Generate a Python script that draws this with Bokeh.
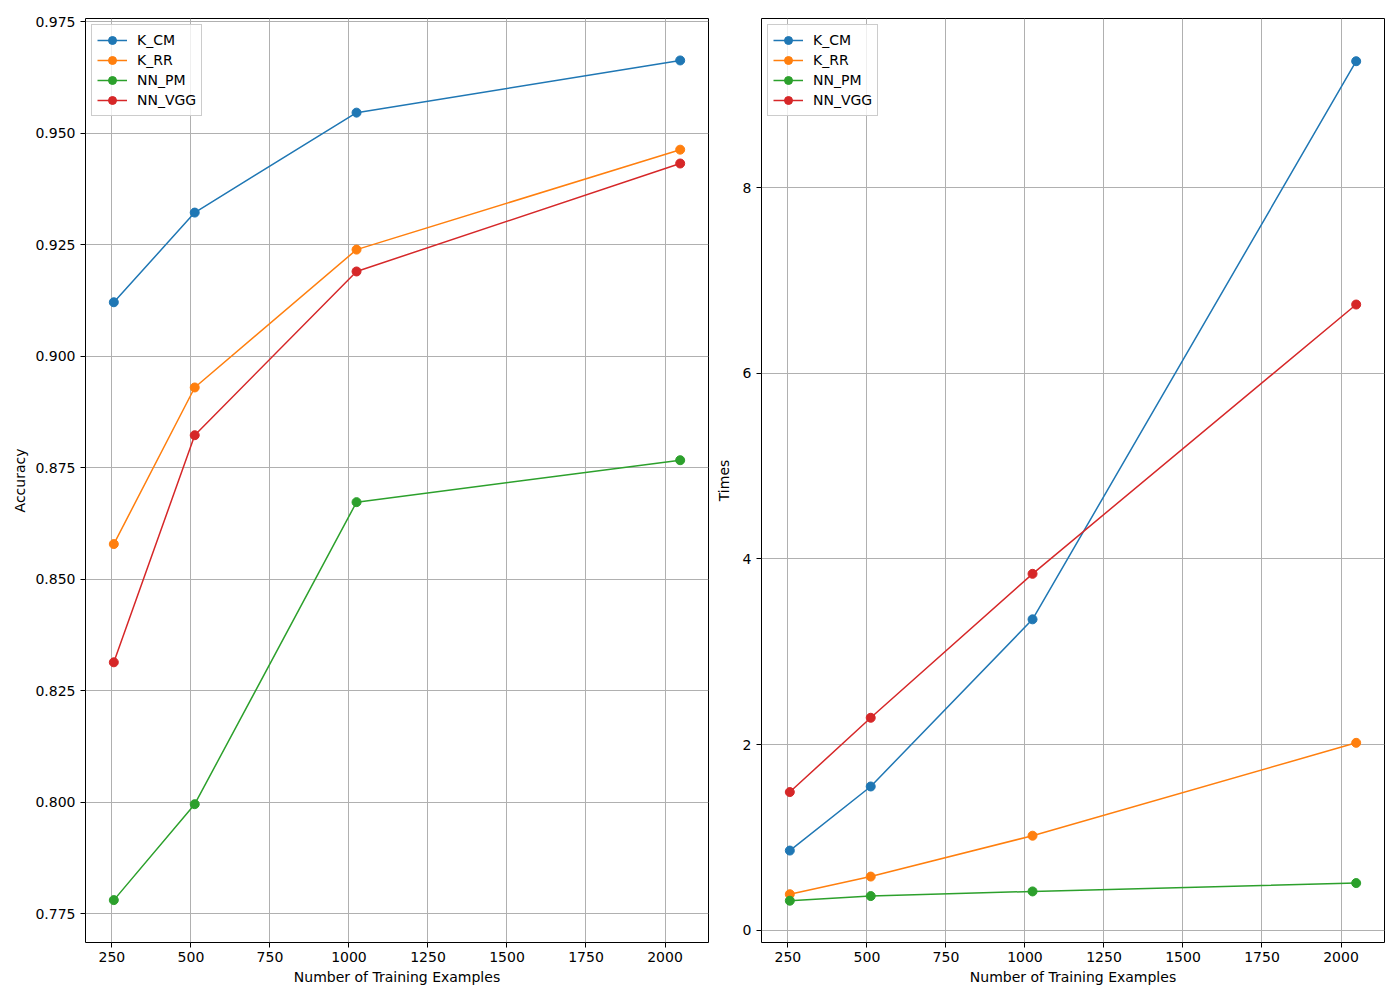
from bokeh.plotting import figure
from bokeh.layouts import row
from bokeh.models import FixedTicker, NumeralTickFormatter, Range1d, Legend, LegendItem
from bokeh.embed import file_html
from bokeh.resources import INLINE

x_vals = [256, 512, 1024, 2048]
series_names = ["K_CM", "K_RR", "NN_PM", "NN_VGG"]
colors = ["#1f77b4", "#ff7f0e", "#2ca02c", "#d62728"]

acc_k_cm = [0.9121, 0.9322, 0.9546, 0.9663]
acc_k_rr = [0.8579, 0.8930, 0.9239, 0.9463]
acc_nn_pm = [0.7781, 0.7996, 0.8673, 0.8767]
acc_nn_vgg = [0.8314, 0.8823, 0.9190, 0.9432]

time_k_cm = [0.86, 1.55, 3.35, 9.36]
time_k_rr = [0.39, 0.58, 1.02, 2.02]
time_nn_pm = [0.32, 0.37, 0.42, 0.51]
time_nn_vgg = [1.49, 2.29, 3.84, 6.74]

x_ticks = [250, 500, 750, 1000, 1250, 1500, 1750, 2000]
acc_ticks = [0.775, 0.800, 0.825, 0.850, 0.875, 0.900, 0.925, 0.950, 0.975]
time_ticks = [0, 2, 4, 6, 8]

FONT = "DejaVu Sans"


def make_fig(ys, y_range, yticks, fmt, ylabel, border_left, border_right, ylabel_standoff):
    p = figure(frame_width=623, frame_height=924, output_backend="svg",
               toolbar_location=None, min_border_left=border_left,
               min_border_right=border_right, min_border_top=18,
               min_border_bottom=58, background_fill_color="white",
               border_fill_color="white")
    p.x_range = Range1d(166.4, 2137.6)
    p.y_range = Range1d(*y_range)
    p.outline_line_color = "black"
    p.outline_line_width = 1
    for ax in (p.xaxis[0], p.yaxis[0]):
        ax.major_label_text_font = FONT
        ax.major_label_text_font_size = "14px"
        ax.major_label_text_color = "black"
        ax.axis_label_text_font = FONT
        ax.axis_label_text_font_size = "14px"
        ax.axis_label_text_font_style = "normal"
        ax.axis_label_text_color = "black"
        ax.axis_line_color = None
        ax.major_tick_line_color = "black"
        ax.major_tick_out = 5
        ax.major_tick_in = 0
        ax.minor_tick_line_color = None
    p.xaxis.ticker = FixedTicker(ticks=x_ticks)
    p.yaxis.ticker = FixedTicker(ticks=yticks)
    p.yaxis.formatter = NumeralTickFormatter(format=fmt)
    p.xaxis.axis_label = "Number of Training Examples"
    p.yaxis.axis_label = ylabel
    p.xaxis.major_label_standoff = 4
    p.xaxis.axis_label_standoff = 4
    p.yaxis.major_label_standoff = 5
    p.yaxis.axis_label_standoff = ylabel_standoff
    p.grid.grid_line_color = "#b0b0b0"
    p.grid.grid_line_width = 1
    items = []
    for name, c, y in zip(series_names, colors, ys):
        l = p.line(x_vals, y, line_color=c, line_width=1.5)
        s = p.scatter(x_vals, y, size=9, fill_color=c, line_color=c)
        items.append(LegendItem(label=name, renderers=[l, s]))
    leg = Legend(items=items, location="top_left")
    leg.label_text_font = FONT
    leg.label_text_font_size = "14px"
    leg.label_text_color = "black"
    leg.border_line_color = "#cccccc"
    leg.border_line_alpha = 1
    leg.background_fill_alpha = 0.8
    leg.margin = 6
    leg.padding = 5
    leg.spacing = 0
    leg.glyph_width = 30
    leg.glyph_height = 20
    leg.label_height = 20
    leg.label_standoff = 10
    p.add_layout(leg)
    return p


p1 = make_fig([acc_k_cm, acc_k_rr, acc_nn_pm, acc_nn_vgg], (0.7686, 0.9757),
              acc_ticks, "0.000", "Accuracy", 85, 4, 4)
p2 = make_fig([time_k_cm, time_k_rr, time_nn_pm, time_nn_vgg], (-0.13, 9.82),
              time_ticks, "0", "Times", 43, 15, 8)

layout = row(p1, p2)
open("out.html", "w").write(file_html(layout, INLINE))
